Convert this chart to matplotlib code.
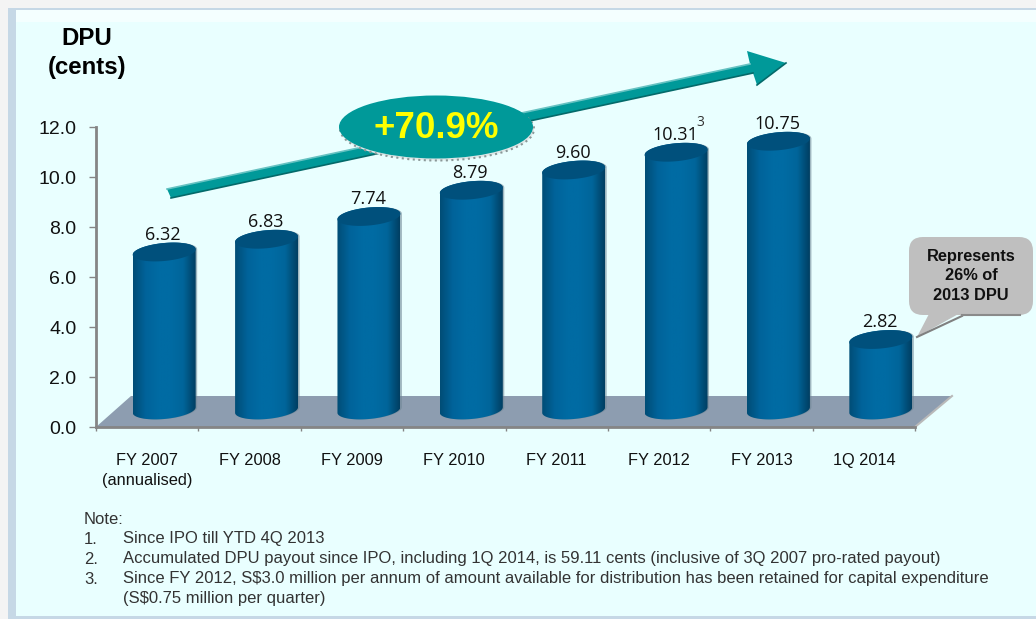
import matplotlib
matplotlib.use('Agg')
import matplotlib.pyplot as plt
import numpy as np
from matplotlib.colors import LinearSegmentedColormap
from matplotlib.patches import Ellipse, FancyBboxPatch, Polygon, PathPatch, Rectangle
from matplotlib.path import Path

categories = ['FY 2007\n(annualised)', 'FY 2008', 'FY 2009', 'FY 2010', 'FY 2011', 'FY 2012', 'FY 2013', '1Q 2014']
dpu = [6.32, 6.83, 7.74, 8.79, 9.60, 10.31, 10.75, 2.82]
dpu_labels = ['6.32', '6.83', '7.74', '8.79', '9.60', '10.31', '10.75', '2.82']
y_ticks = [0, 2, 4, 6, 8, 10, 12]
notes = [
    ('Note:', ''),
    ('1.', 'Since IPO till YTD 4Q 2013'),
    ('2.', 'Accumulated DPU payout since IPO, including 1Q 2014, is 59.11 cents (inclusive of 3Q 2007 pro-rated payout)'),
    ('3.', 'Since FY 2012, S$3.0 million per annum of amount available for distribution has been retained for capital expenditure'),
    ('', '(S$0.75 million per quarter)'),
]

W, H = 1036, 619
SANS = 'Liberation Sans'
PANEL = '#e9ffff'
TEAL = '#009999'
GREY = '#858585'

bar_cmap = LinearSegmentedColormap.from_list('bar', ['#004d76', '#00639a', '#006ba3', '#006ba3', '#00659a', '#003f62'])


def px_x(x):
    return (x - 96) / (915 - 96) * 8


def px_y(y):
    return (427 - y) / 25.0


def tilted_ellipse(cx, cy, rx, ry, tilt):
    t = np.linspace(0, 2 * np.pi, 80)
    x = cx + rx * np.cos(t)
    y = cy + ry * np.sin(t) + tilt * np.cos(t)
    return np.column_stack([x, y])


def draw_bar(ax, i, value):
    # fake 3D cylinder, shifted back onto the floor
    cx = i + 0.5 + 17 / 102.4
    rx = 31.5 / 102.4
    ry = 0.36
    tilt = 0.11
    base = 0.68
    top = base + value
    bottom = tilted_ellipse(cx, base, rx, ry, tilt)
    lid = tilted_ellipse(cx, top, rx, ry, tilt)
    lower = bottom[40:]
    body = np.vstack([lower, lid[:40]])
    # soft grey halo on the right side
    ax.add_patch(Polygon(body + [1.5 / 102.4, 0], closed=True, fc='#6f8796', ec='none', alpha=0.6, zorder=2))
    clip = PathPatch(Path(np.vstack([body, body[:1]])), transform=ax.transData, fc='none', ec='none')
    ax.add_patch(clip)
    grad = np.linspace(0, 1, 128).reshape(1, -1)
    im = ax.imshow(grad, extent=[cx - rx, cx + rx, 0, top + 1], cmap=bar_cmap, aspect='auto', zorder=3)
    im.set_clip_path(clip)
    ax.add_patch(Polygon(lid, closed=True, fc='#00507c', ec='none', zorder=4))
    ax.text(cx - 1 / 102.4, top + 0.33, dpu_labels[i], ha='center', va='bottom', fontsize=13,
            family='Open Sans', color='#111111', zorder=6)


fig = plt.figure(figsize=(W / 100, H / 100), dpi=100, facecolor='#f4f4f4')

# page background, panel and drawn shapes live in one pixel-space layer
bg = fig.add_axes([0, 0, 1, 1], zorder=0)
bg.set_xlim(0, W)
bg.set_ylim(H, 0)
bg.axis('off')
bg.add_patch(Rectangle((8, 8), W, H - 8, fc='#c6d8e6', ec='none'))
bg.add_patch(Rectangle((16, 11), W, 606 - 1, fc=PANEL, ec='none'))
bg.add_patch(Rectangle((16, 10), W, 12, fc='#f4ffff', ec='none'))

ax = fig.add_axes([96 / W, 1 - 427 / H, (915 - 96) / W, 300 / H], zorder=2)
ax.patch.set_alpha(0)
ax.set_xlim(0, 8)
ax.set_ylim(0, 12)

# floor
ax.add_patch(Polygon([(0, 0), (px_x(131), px_y(396)), (px_x(952), px_y(396)), (8, 0)], closed=True,
                     fc='#8d9db0', ec='none', zorder=1, clip_on=False))
ax.plot([8, px_x(952)], [0, px_y(396)], color='#b9b9b9', lw=1.5, zorder=1, clip_on=False)

for i, value in enumerate(dpu):
    draw_bar(ax, i, value)
ax.set_xlim(0, 8)
ax.set_ylim(0, 12)

for name in ['top', 'right']:
    ax.spines[name].set_visible(False)
for name in ['left', 'bottom']:
    ax.spines[name].set_color(GREY)
    ax.spines[name].set_linewidth(2)
    ax.spines[name].set_zorder(5)

ax.set_yticks(y_ticks)
ax.set_yticklabels(['%.1f' % v for v in y_ticks], fontsize=14, family=SANS, color='#111111')
ax.tick_params(axis='y', length=5, width=1, color=GREY, pad=9)
ax.set_xticks(np.arange(9))
ax.set_xticklabels([])
ax.tick_params(axis='x', length=3, width=1, color=GREY)
for i, cat in enumerate(categories):
    ax.text(i + 0.5, px_y(453), cat, ha='center', va='top', fontsize=11.8, family=SANS,
            color='#111111', linespacing=1.4, clip_on=False)

# superscript on FY 2012
ax.text(px_x(700), px_y(122), '3', ha='center', va='center', fontsize=10, family='Open Sans', color='#333333')

over = fig.add_axes([0, 0, 1, 1], zorder=3)
over.set_xlim(0, W)
over.set_ylim(H, 0)
over.axis('off')

# growth arrow
over.add_patch(Polygon([(167, 189), (750, 64), (747, 51), (786, 63), (757, 85), (753, 73), (171, 198)], closed=True,
                       fc=TEAL, ec='none', zorder=2))
over.plot([167, 750], [189, 64], color='#66c2c2', lw=1.2, zorder=3)
over.plot([171, 753], [198, 73], color='#046a6a', lw=1.2, zorder=3)
over.plot([757, 786], [85, 63], color='#046a6a', lw=1.2, zorder=3)

# +70.9% badge, the dotted edge only shows on the lower right
over.add_patch(Ellipse((437, 129), 194, 63, fc='#dfe8e8', ec='#8a9898', lw=1.5, ls=':', zorder=4))
over.add_patch(Ellipse((436, 127), 194, 63, fc=TEAL, ec='none', zorder=5))
over.text(436, 128, '+70.9%', ha='center', va='center', fontsize=26.5, fontweight='bold', family=SANS,
          color='#ffff00', zorder=6)

# callout
over.add_patch(Polygon([(917, 337), (930, 312), (962, 312)], closed=True, fc='#bfbfbf', ec='none', zorder=4))
over.plot([917, 962], [337, 316], color='#808080', lw=1.5, zorder=4)
over.add_patch(FancyBboxPatch((909, 237), 124, 78, boxstyle='round,pad=0,rounding_size=14',
                              fc='#bfbfbf', ec='none', zorder=5))
over.plot([962, 1020], [315, 315], color='#8a8a8a', lw=1.5, zorder=5)
over.text(971, 276, 'Represents\n26% of\n2013 DPU', ha='center', va='center', fontsize=11.8, fontweight='bold',
          family=SANS, color='#111111', linespacing=1.34, zorder=6)

# axis title
over.text(87, 53, 'DPU\n(cents)', ha='center', va='center', fontsize=17.3, fontweight='bold', family=SANS,
          color='black', linespacing=1.3)

# notes
for row, (num, txt) in enumerate(notes):
    y = 519 + row * 20
    over.text(84, y, num, va='center', fontsize=12, family=SANS, color='#333333')
    over.text(123, y, txt, va='center', fontsize=12, family=SANS, color='#333333')

fig.savefig('out.png', dpi=100, facecolor=fig.get_facecolor())
